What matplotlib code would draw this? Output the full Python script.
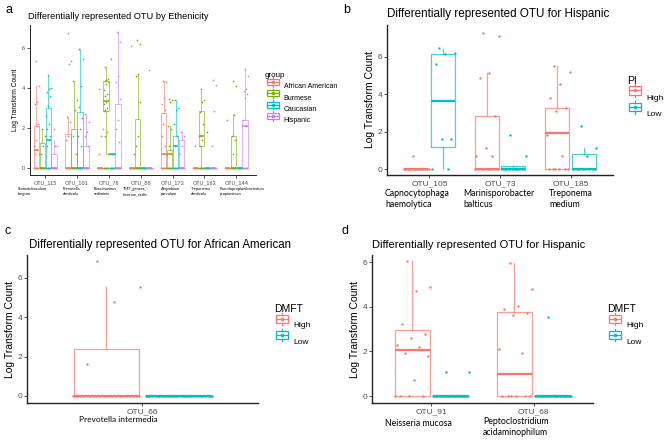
import numpy as np
import matplotlib.pyplot as plt
from matplotlib.patches import Patch, Rectangle
from matplotlib.lines import Line2D
from matplotlib.legend_handler import HandlerBase

plt.rcParams['font.family'] = ['Liberation Sans', 'DejaVu Sans']

# ---------------- panel a data ----------------
a_otus = ['OTU_115', 'OTU_101', 'OTU_76', 'OTU_88', 'OTU_173', 'OTU_163', 'OTU_144']
a_species = ['Stomatobaculum\nlongum', 'Prevotella\ndenticola', 'Roseimarinus\nsediminis',
             'TM7_genera_\nincertae_sedis', 'Atopobium\nparvulum', 'Treponema\ndenticola',
             'Pseudopropionibacterium\npropionicum']
a_groups = ['African American', 'Burmese', 'Caucasian', 'Hispanic']
a_q1 = [[0, 0, 0, 0, 0, 0, 0],
        [0, 0, 2.85, 0, 0, 1.1, 0],
        [0, 0, 0.7, 0, 0, 0, 0],
        [0, 0, 0, 0, 0, 0, 0]]
a_med = [[0.9, 0, 0, 0, 0.7, 0, 0],
         [0, 0, 3.33, 0, 0.7, 1.6, 0],
         [1.38, 0, 0.7, 0, 1.1, 0, 0],
         [0, 0, 0, 0, 0, 0, 2.1]]
a_q3 = [[2.1, 1.7, 0, 0, 2.75, 0, 0],
        [1.25, 1.95, 4.35, 2.45, 0.9, 2.85, 1.6],
        [3.0, 2.8, 0.7, 0, 1.6, 0, 0],
        [0.7, 1.1, 3.2, 0, 1.4, 0, 2.4]]
a_lo = [[0, 0, 0, 0, 0, 0, 0],
        [0, 0, 0.7, 0, 0, 0, 0],
        [0, 0, 0.7, 0, 0, 0, 0],
        [0, 0, 0, 0, 0, 0, 0]]
a_hi = [[4.1, 2.55, 0, 0, 4.35, 0, 0],
        [1.95, 4.35, 5.05, 4.7, 2.1, 3.95, 2.7],
        [4.65, 5.95, 0.7, 0, 3.4, 0, 0],
        [1.4, 2.7, 6.8, 0, 1.8, 0, 4.95]]
a_pts = [[[5.35, 4.1, 3.3, 3.2, 2.2, 1.4, 1.1, 0.9, 0.7, 0.7],
          [6.75, 5.35, 5.2, 2.55, 2.3, 1.6, 1.4],
          [3.95, 1.95, 1.6, 0.7],
          [6.1, 0.7],
          [4.35, 4.3, 3.5, 3.2, 2.9, 2.2, 1.6, 1.1, 0.7, 0.7],
          [1.1],
          [2.4]],
         [[1.95, 1.6, 1.1, 0.7],
          [4.35, 3.4, 2.9, 1.6, 0.7],
          [5.05, 4.45, 4.4, 4.35, 4.3, 4.2, 3.9, 3.7, 3.6, 3.4, 3.3, 3.2, 3.0, 2.9, 2.85, 1.8, 1.6, 0.7],
          [6.4, 6.2, 4.7, 4.6, 3.3, 1.6, 1.1],
          [3.45, 3.4, 3.3, 2.1, 1.95, 1.1, 0.7, 0.7],
          [3.95, 3.4, 3.3, 2.8, 2.2, 1.6, 1.6, 1.4, 1.1],
          [4.35, 4.1, 2.65, 1.6, 1.4, 0.7]],
         [[4.65, 4.0, 3.95, 3.8, 3.6, 3.1, 2.6, 2.2, 1.95, 1.6, 1.4, 1.1],
          [5.95, 5.45, 4.1, 3.05, 2.5, 1.95, 1.6, 1.1],
          [5.45, 0.7, 0.7],
          [],
          [3.4, 3.0, 2.9, 2.2, 1.6, 1.1],
          [1.8],
          []],
         [[1.95, 1.1, 1.1],
          [2.7, 2.3, 1.8, 1.6, 1.1],
          [6.8, 6.3, 4.6, 4.3, 3.45, 2.4, 1.95, 1.3],
          [4.9],
          [1.8, 1.6, 1.1, 0.7],
          [4.4, 4.15, 2.85, 1.1],
          [4.95, 4.6, 3.95, 3.85, 3.7, 3.5, 2.4, 2.1]]]
a_zeros = [[8] * 7, [8] * 7, [8] * 7, [8] * 7]

# ---------------- panel b data ----------------
b_otus = ['OTU_105', 'OTU_73', 'OTU_185']
b_groups = ['High', 'Low']
b_q1 = [[0, 0, 0], [1.2, 0, 0]]
b_med = [[0, 0, 1.95], [3.62, 0, 0]]
b_q3 = [[0, 2.85, 3.25], [6.15, 0.18, 0.8]]
b_lo = [[0, 0, 0], [0, 0, 0]]
b_hi = [[0, 5.15, 5.5], [6.45, 0, 1.1]]
b_pts = [[[0.7], [7.3, 7.1, 5.15, 4.85, 2.85, 1.1, 0.7, 0.7], [5.5, 5.2, 4.55, 3.8, 3.25, 3.1, 1.8, 0.7]],
         [[6.5, 6.2, 6.15, 5.6, 1.6, 1.6], [1.8, 0.7], [2.3, 1.1, 0.7]]]
b_zeros = [[14, 8, 6], [2, 10, 8]]

# ---------------- panel c data ----------------
c_otus = ['OTU_66']
c_q1 = [[0], [0]]
c_med = [[0], [0]]
c_q3 = [[2.4], [0]]
c_lo = [[0], [0]]
c_hi = [[5.55], [0]]
c_pts = [[[6.85, 5.55, 4.75, 1.6]], [[]]]
c_zeros = [[20], [30]]

# ---------------- panel d data ----------------
d_otus = ['OTU_91', 'OTU_68']
d_q1 = [[0, 0], [0, 0]]
d_med = [[2.07, 0.98], [0, 0]]
d_q3 = [[2.95, 3.75], [0, 0]]
d_lo = [[0, 0], [0, 0]]
d_hi = [[6.05, 5.95], [0, 0]]
d_pts = [[[6.05, 4.9, 4.7, 3.25, 2.8, 2.6, 2.3, 2.2, 1.95, 1.8, 0.7],
          [5.95, 4.8, 4.05, 3.9, 3.7, 3.65, 2.1, 1.95]],
         [[1.1, 1.1], [3.55]]]
d_zeros = [[4, 6], [25, 25]]

col4 = ['#F8766D', '#7CAE00', '#00BFC4', '#C77CFF']
col2 = ['#F8766D', '#00BFC4']

W, H = 669, 442
fig = plt.figure(figsize=(W / 100, H / 100), dpi=100)


def add_ax(l, t, r, b):
    return fig.add_axes([l / W, 1 - b / H, (r - l) / W, (b - t) / H])


def fx(x):
    return x / W


def fy(y):
    return 1 - y / H


def jitter(n, half):
    # deterministic spread (golden-ratio sequence), no randomness
    return ((np.arange(n) * 0.618034 + 0.37) % 1 - 0.5) * 2 * half


def draw_panel(ax, q1, med, q3, lo, hi, pts, zeros, colors, offsets, bw, jit, ps, lw):
    for g, c in enumerate(colors):
        stats, pos = [], []
        for k in range(len(q1[g])):
            stats.append(dict(q1=q1[g][k], med=med[g][k], q3=q3[g][k],
                              whislo=lo[g][k], whishi=hi[g][k]))
            pos.append(k + 1 + offsets[g])
        ax.bxp(stats, positions=pos, widths=bw, showfliers=False, showcaps=False,
               boxprops=dict(color=c, lw=lw, alpha=0.7),
               whiskerprops=dict(color=c, lw=lw, alpha=0.7),
               medianprops=dict(color=c, lw=lw * 1.8), manage_ticks=False)
        for k in range(len(q1[g])):
            vals = np.r_[np.array(pts[g][k], float), np.zeros(zeros[g][k])]
            x = k + 1 + offsets[g] + jitter(len(vals), jit)
            ax.scatter(x, vals, s=ps, color=c, lw=0, zorder=3)


def style(ax, otus, ylim, xlim, tfs, lfs, lw):
    ax.set_xlim(*xlim)
    ax.set_ylim(*ylim)
    ax.set_xticks(range(1, len(otus) + 1))
    ax.set_xticklabels(otus)
    ax.set_yticks([0, 2, 4, 6])
    for s in ['top', 'right']:
        ax.spines[s].set_visible(False)
    for s in ['left', 'bottom']:
        ax.spines[s].set_linewidth(lw)
        ax.spines[s].set_color('#222222')
    ax.tick_params(labelsize=tfs, colors='#333333', labelcolor='#4D4D4D', length=2, width=0.6, pad=1.5)
    ax.set_ylabel('Log Transform Count', fontsize=lfs, labelpad=2)
    ax.patch.set_alpha(0)


class BoxKey(HandlerBase):
    def create_artists(self, legend, orig, xd, yd, w, h, fontsize, trans):
        c = orig.get_edgecolor()
        x0, x1 = xd + 0.1 * w, xd + 0.9 * w
        r = Rectangle((x0, yd + 0.15 * h), x1 - x0, 0.7 * h, fc='white', ec=c, lw=0.9, transform=trans)
        m = Line2D([x0, x1], [yd + 0.5 * h] * 2, color=c, lw=0.9, transform=trans)
        w1 = Line2D([xd + 0.5 * w] * 2, [yd + 0.85 * h, yd + 1.05 * h], color=c, lw=0.9, transform=trans)
        w2 = Line2D([xd + 0.5 * w] * 2, [yd - 0.05 * h, yd + 0.15 * h], color=c, lw=0.9, transform=trans)
        p = Line2D([xd + 0.5 * w], [yd + 0.5 * h], marker='o', ms=1.5, color=c, lw=0, transform=trans)
        return [r, m, w1, w2, p]


def legend(title, labels, colors, x, y, tfs, fs, hh, ls, hl):
    handles = [Patch(edgecolor=c, facecolor='white') for c in colors]
    fig.legend(handles, labels, title=title, loc='upper left', bbox_to_anchor=(fx(x), fy(y)),
               frameon=False, fontsize=fs, title_fontsize=tfs, handleheight=hh, labelspacing=ls,
               handlelength=hl, handletextpad=0.5, alignment='left', borderpad=0, borderaxespad=0,
               handler_map={Patch: BoxKey()})


# ---------------- panel a ----------------
axa = add_ax(30, 25, 256, 175)
draw_panel(axa, a_q1, a_med, a_q3, a_lo, a_hi, a_pts, a_zeros, col4,
           [-0.28, -0.094, 0.094, 0.28], 0.17, 0.08, 1.5, 0.6)
style(axa, a_otus, (-0.35, 7.15), (0.52, 7.62), 4, 4.8, 0.7)
axa.set_title('Differentially represented OTU by Ethenicity', fontsize=6.7, loc='left', x=-0.01, pad=4)
legend('group', a_groups, col4, 265, 72, 5.8, 5, 1.5, 0.4, 2.2)
a_sp_x = [18, 63, 94, 123, 161, 191, 220]
for sx, sp in zip(a_sp_x, a_species):
    fig.text(fx(sx), fy(187), sp, fontsize=2.9, va='top', ha='left', family='Lato', linespacing=1.3)

# ---------------- panel b ----------------
axb = add_ax(387, 25, 613, 175)
draw_panel(axb, b_q1, b_med, b_q3, b_lo, b_hi, b_pts, b_zeros, col2,
           [-0.1875, 0.1875], 0.34, 0.18, 3, 0.9)
style(axb, b_otus, (-0.32, 7.71), (0.4, 3.6), 6, 7.5, 1.0)
axb.set_title('Differentially represented OTU for Hispanic', fontsize=8.4, loc='left', x=0, pad=6)
legend('PI', b_groups, col2, 627, 76, 7.5, 6, 1.8, 0.6, 1.8)
for sx, sp in zip([385, 463, 549], ['Capnocytophaga\nhaemolytica', 'Marinisporobacter\nbalticus',
                                    'Treponema\nmedium']):
    fig.text(fx(sx), fy(189), sp, fontsize=6.3, va='top', ha='left', family='Lato', linespacing=1.3)

# ---------------- panel c ----------------
axc = add_ax(27, 255, 258, 403)
draw_panel(axc, c_q1, c_med, c_q3, c_lo, c_hi, c_pts, c_zeros, col2,
           [-0.1875, 0.1875], 0.34, 0.18, 3, 0.9)
style(axc, c_otus, (-0.36, 7.16), (0.4, 1.6), 6, 7.5, 1.0)
axc.set_title('Differentially represented OTU for African American', fontsize=8.3, loc='left', x=0.01, pad=5)
legend('DMFT', b_groups, col2, 274, 304, 7.5, 6, 1.7, 0.6, 1.8)
fig.text(fx(79), fy(419), 'Prevotella intermedia', fontsize=6, va='center', ha='left', family='Lato')

# ---------------- panel d ----------------
axd = add_ax(372, 255, 593, 403)
draw_panel(axd, d_q1, d_med, d_q3, d_lo, d_hi, d_pts, d_zeros, col2,
           [-0.1875, 0.1875], 0.34, 0.18, 3, 0.9)
style(axd, d_otus, (-0.31, 6.32), (0.42, 2.58), 6, 7.5, 1.0)
axd.set_title('Differentially represented OTU for Hispanic', fontsize=8.0, loc='left', x=0, pad=5)
legend('DMFT', b_groups, col2, 607, 304, 7.5, 6, 1.7, 0.6, 1.8)
fig.text(fx(385), fy(423), 'Neisseria mucosa', fontsize=6.3, va='center', ha='left', family='Lato')
fig.text(fx(483), fy(417), 'Peptoclostridium\nacidaminophilum', fontsize=6.3, va='top', ha='left',
         family='Lato', linespacing=1.3)

# panel letters
for lx, ly, t in [(9, 10, 'a'), (347, 10, 'b'), (8, 231, 'c'), (345, 231, 'd')]:
    fig.text(fx(lx), fy(ly), t, fontsize=9, ha='center', va='center')

fig.savefig('out.png', dpi=100)
